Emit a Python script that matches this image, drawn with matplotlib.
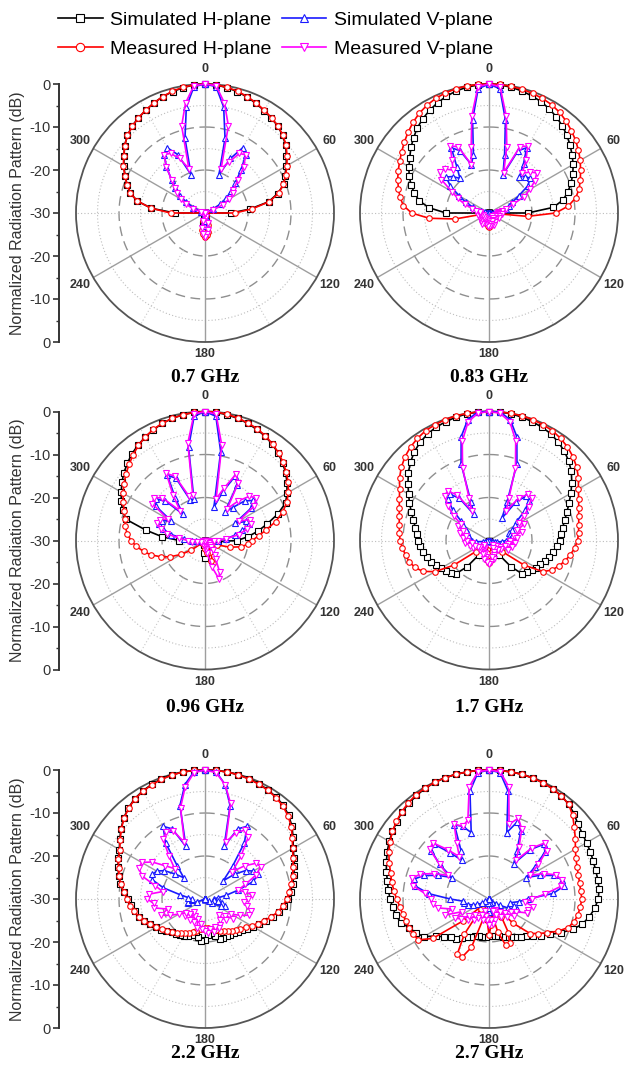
import numpy as np
import matplotlib
matplotlib.use("Agg")
import matplotlib.pyplot as plt

plt.rcParams['font.family'] = ['Liberation Sans', 'DejaVu Sans']

# ---------------- data (dB, angles 0..355 step 5, clockwise from top) ----------------
angles_deg = list(range(0, 360, 5))
freq_labels = ["0.7 GHz", "0.83 GHz", "0.96 GHz", "1.7 GHz", "2.2 GHz", "2.7 GHz"]
series_labels = ["Simulated H-plane", "Measured H-plane", "Simulated V-plane", "Measured V-plane"]
angle_tick_values = [0, 60, 120, 180, 240, 300]
angle_tick_labels = ["0", "60", "120", "180", "240", "300"]
left_tick_values = [30, 20, 10, 0, -10, -20, -30]
left_tick_labels = ["0", "-10", "-20", "-30", "-20", "-10", "0"]

sim_h_07 = [0, -0.1, -0.4, -0.8, -1.3, -1.9, -2.5, -3.1, -3.6, -4.5, -5.5, -6.9, -8.2, -9.5, -10.5, -12.5, -15, -19.5,
            -24, -31, -31, -31, -31, -31, -31, -31, -31, -31, -31, -31, -31, -31, -30, -29, -27.5, -27,
            -27, -27, -27.5, -29, -30.5, -31, -31, -31, -31, -31, -31, -31, -31, -31, -31, -31, -31, -31,
            -23, -17.5, -14, -12, -10.7, -9.5, -8.2, -7, -5.6, -4.5, -3.6, -3, -2.4, -1.8, -1.2, -0.8, -0.4, -0.1]
meas_h_07 = [0, -0.1, -0.3, -0.7, -1.2, -1.8, -2.4, -3.0, -3.6, -4.4, -5.4, -6.7, -8.0, -9.3, -10.6, -12.3, -14.8, -19,
             -23, -31, -31, -31, -31, -31, -31, -31, -31, -31, -31, -31, -31, -31, -29, -27, -25.5, -24.8,
             -24.5, -25, -26, -28, -31, -31, -31, -31, -31, -31, -31, -31, -31, -31, -31, -31, -31, -31,
             -22, -17.5, -14, -12, -10.7, -9.4, -8.1, -6.9, -5.6, -4.5, -3.7, -3.0, -2.4, -1.8, -1.2, -0.7, -0.3, -0.1]
sim_v_07 = [0, -0.5, -5, -12, -20.5, -16, -12.5, -13.5, -17, -20, -22, -24, -26, -28, -30, -31, -31, -31,
            -31, -31, -31, -31, -31, -31, -31, -31, -31, -31, -31, -31, -31, -31, -30, -29, -28, -27.5,
            -27, -27.5, -28, -29, -30.5, -31, -31, -31, -31, -31, -31, -31, -31, -31, -31, -31, -31, -31,
            -31, -31, -31, -31, -29, -27, -25, -23, -21, -19, -16, -13.5, -12.5, -15, -20.5, -12, -5, -0.5]
meas_v_07 = [0, -0.3, -4, -9, -19, -17, -14, -13.5, -16, -19, -21.5, -22, -23.5, -25.5, -28, -31, -31, -31,
             -31, -31, -31, -31, -31, -31, -31, -31, -31, -31, -31, -31, -31, -31, -29, -27.5, -26, -25,
             -24.5, -25, -26.5, -28, -29.5, -31, -31, -31, -31, -31, -31, -31, -31, -31, -31, -31, -31, -31,
             -31, -31, -31, -29, -27, -25, -23.5, -22, -21, -19, -16, -13.4, -14, -16, -19, -9, -4, -0.3]

sim_h_083 = [0, -0.1, -0.3, -0.6, -1.0, -1.4, -2.0, -2.7, -3.5, -4.4, -5.4, -6.4, -7.4, -8.5, -9.7, -11, -12.5, -15,
             -21, -31, -31, -31, -31, -31, -31, -31, -31, -31, -31, -31, -31, -31, -31, -31, -31, -29,
             -28, -29, -31, -31, -31, -31, -31, -31, -31, -31, -31, -31, -31, -31, -31, -31, -31, -31,
             -20, -16, -13.5, -12, -10.7, -9.5, -8.5, -7.5, -6.3, -5.2, -4.1, -3.2, -2.4, -1.7, -1.1, -0.6, -0.3, -0.1]
meas_h_083 = [0, 0, -0.1, -0.2, -0.4, -0.6, -0.9, -1.4, -2.1, -2.9, -3.7, -4.6, -5.5, -6.5, -7.4, -8.3, -9.5, -11.5,
              -14.5, -21, -31, -31, -31, -31, -31, -31, -31, -31, -31, -31, -31, -31, -31, -31, -28.5, -27,
              -26.7, -27, -28.5, -31, -31, -31, -31, -31, -31, -31, -31, -31, -31, -31, -31, -31, -22, -16,
              -12, -10, -9, -8.2, -7.4, -6.7, -6.0, -5.2, -4.3, -3.4, -2.5, -1.7, -1.1, -0.6, -0.3, -0.1, 0, 0]
sim_v_083 = [0, -1, -8, -16, -20.5, -14, -12.5, -16, -19, -18, -17.5, -19, -22, -24, -25, -26, -28, -29,
             -29.5, -31, -31, -31, -31, -31, -31, -31, -31, -31, -31, -31, -31, -31, -29.5, -29, -28.5, -28.5,
             -28.5, -28.5, -29, -29.5, -31, -31, -31, -31, -31, -31, -31, -31, -31, -31, -31, -31, -31, -31,
             -31, -29.5, -29, -28, -26, -24, -22, -19, -17, -18, -19.5, -17, -12.5, -14, -18, -16, -8, -1]
meas_v_083 = [0, -0.5, -7, -14, -20, -13, -12, -15, -18, -16.5, -15.5, -17, -19, -21, -24, -26, -27, -28,
              -28, -27, -28, -27.5, -28.5, -27.5, -28.5, -28, -29, -28, -28.5, -27.5, -28, -27, -28, -27, -27.5, -27,
              -27.5, -27, -28, -27.5, -28.5, -27.5, -28, -27, -28.5, -27.5, -28, -28.5, -27.5, -28, -28.5, -28, -27.5, -28,
              -28, -28, -27, -26, -24, -22, -20, -16.5, -15, -15.5, -17, -15, -12, -13, -18, -14, -7, -0.5]

sim_h_096 = [0, -0.1, -0.3, -0.6, -1.0, -1.5, -2.0, -2.7, -3.5, -4.5, -5.5, -6.7, -8, -9.3, -12, -15, -17.5, -20,
             -22.5, -27, -31, -31, -31, -31, -31, -31, -31, -31, -31, -31, -31, -31, -31, -31, -28, -26.5,
             -26, -27, -29, -31, -31, -31, -31, -31, -31, -31, -31, -31, -31, -31, -31, -31, -31, -31,
             -24, -20, -16, -11, -9.6, -8.5, -7.5, -6.4, -5.4, -4.5, -3.6, -2.9, -2.2, -1.6, -1.0, -0.6, -0.3, -0.1]
meas_h_096 = [0, 0, -0.2, -0.5, -0.9, -1.3, -1.9, -2.6, -3.4, -4.3, -5.3, -6.4, -7.6, -9, -10.8, -13, -15.5, -17.5,
              -19, -20, -21.5, -24, -27, -30.5, -31, -31, -31, -31, -31, -31, -31, -27, -24.5, -25, -27, -28,
              -28, -29, -31, -31, -31, -31, -31, -31, -31, -31, -29, -26, -23.5, -21, -19, -17, -15.5, -14,
              -12.8, -11.8, -11.2, -10.7, -10, -9, -8, -7, -6, -5, -4, -3, -2.2, -1.5, -1.0, -0.6, -0.3, -0.1]
sim_v_096 = [0, -1, -9, -22, -18, -13.5, -15, -22, -20, -17, -15.5, -17, -22, -19.5, -19, -21, -23, -25,
             -27, -29, -31, -31, -31, -31, -31, -31, -31, -31, -31, -31, -31, -31, -31, -31, -31, -31,
             -31, -31, -31, -31, -31, -31, -31, -31, -31, -31, -31, -31, -31, -31, -31, -31, -29, -28,
             -27, -25, -22, -20, -18.5, -19, -21, -16, -15, -17, -22, -18, -12.5, -14, -20, -20, -8, -1]
meas_v_096 = [0, -0.5, -7.5, -20, -17, -13, -14.5, -21, -18, -15.5, -14.5, -16, -21, -18.5, -18.5, -20, -22, -25,
              -27, -28, -29, -29.5, -30, -29, -30, -29, -28.5, -28, -27, -26, -25, -22, -20.5, -23.5, -27, -28,
              -28.5, -29, -29.5, -29, -30, -29, -30, -31, -31, -31, -31, -31, -31, -31, -29.5, -29, -28, -27,
              -26, -24, -21, -19.5, -18, -18.5, -20, -15, -14.5, -16, -21, -17, -12, -13.5, -19, -19, -7, -0.5]

sim_h_17 = [0, 0, -0.1, -0.3, -0.6, -0.9, -1.3, -2, -2.8, -3.8, -5, -6.5, -8, -9.5, -10.7, -11.8, -12.6, -13.2,
            -13.6, -14.2, -14.8, -15.5, -16.2, -16.8, -17.3, -17.9, -18.5, -19, -22, -26, -31, -31, -31, -29, -27, -26,
            -26, -26.5, -28, -31, -31, -31, -31, -26, -22, -19, -18.4, -17.8, -17.2, -16.5, -15.7, -15, -14.5, -14,
            -13.6, -13.2, -12.6, -11.8, -10.8, -9.6, -8.4, -7, -5.5, -4.2, -3, -2.1, -1.4, -0.9, -0.6, -0.3, -0.1, 0]
meas_h_17 = [0, 0, 0, 0, -0.1, -0.3, -0.5, -1, -1.6, -2.4, -3.4, -4.6, -6, -7, -7.8, -8.4, -8.8, -9.1,
             -9.4, -10, -10.8, -11.7, -12.7, -13.8, -15.5, -20, -26, -31, -31, -31, -31, -31, -31, -29, -27, -25.5,
             -24.7, -25.5, -27, -31, -31, -31, -31, -31, -31, -31, -26, -20, -15.5, -13, -11.7, -10.8, -10.3, -9.8,
             -9.3, -9.1, -8.8, -8.4, -7.8, -7, -6, -4.6, -3.4, -2.4, -1.6, -1, -0.5, -0.3, -0.1, 0, 0, 0]
sim_v_17 = [0, 0, -1.5, -5, -11, -20, -24, -19, -16.5, -17, -19, -22, -23, -24, -25, -25, -24.5, -25,
            -26, -27, -28, -28.5, -29, -29.5, -31, -31, -31, -31, -31, -31, -31, -31, -31, -31, -31, -31,
            -31, -31, -31, -31, -31, -31, -31, -31, -31, -31, -31, -31, -31, -31, -29.5, -29, -28.5, -27,
            -26, -25.5, -25, -25, -24.5, -24, -23, -22, -19, -16.5, -16, -18, -23, -20, -11, -5, -1.5, 0]
meas_v_17 = [0, -0.3, -2, -6, -12, -19, -22, -18, -16, -16, -18, -20, -22, -21, -23, -22, -24, -23.5,
             -25, -24, -25.5, -24.5, -26, -25, -27, -26.5, -28, -27, -28.5, -27.5, -28, -27, -26.5, -25.5, -26, -25,
             -24.5, -25, -26, -25.5, -27, -26.5, -28, -27.5, -28, -27, -28.5, -27.5, -27, -26, -26.5, -25.5, -26, -24.5,
             -25, -24, -24.5, -23, -23.5, -22, -22.5, -20, -17.5, -15.5, -15, -17, -22, -19, -12, -6, -2, -0.3]

sim_h_22 = [0, 0, 0, -0.1, -0.2, -0.4, -0.7, -1.1, -1.6, -2.5, -3.6, -5, -6.3, -7.2, -7.9, -8.6, -9.3, -10,
            -10.8, -11.5, -12.5, -13.7, -15, -16.2, -17.2, -18, -18.8, -19.3, -19.6, -19.8, -20, -20, -20, -21, -22, -21.5,
            -20.5, -20.2, -21, -22, -21, -20.5, -20, -19.8, -19.5, -19, -18.3, -17.5, -16.8, -16, -15, -14.2, -13.5, -12.8,
            -12, -11, -10, -9.2, -8.5, -7.7, -7, -5.8, -4.5, -3.3, -2.3, -1.5, -1, -0.6, -0.3, -0.1, 0, 0]
meas_h_22 = [0, 0, 0, -0.1, -0.3, -0.5, -0.8, -1.2, -1.8, -2.7, -3.8, -5.2, -6.5, -7.4, -8.2, -8.9, -9.6, -10.3,
             -11, -11.8, -12.8, -14, -15.3, -16.5, -17.5, -18.5, -19.3, -19.8, -20.3, -20.8, -21.3, -21.8, -22.3, -22.8, -23, -23.2,
             -23.3, -23, -22.8, -22.3, -21.8, -21.3, -20.8, -20.3, -19.8, -19.2, -18.5, -17.7, -16.9, -16, -15, -14.1, -13.3, -12.6,
             -11.9, -11, -10.1, -9.3, -8.6, -7.8, -7.1, -5.9, -4.6, -3.4, -2.4, -1.6, -1.1, -0.7, -0.4, -0.2, 0, 0]
sim_v_22 = [0, -0.3, -3, -7.5, -17, -12, -10.5, -14, -20, -24, -21, -18.5, -17, -16.5, -18, -22, -25, -27,
            -28, -28, -27, -26, -25, -26, -28, -29, -31, -31, -31, -31, -31, -31, -31, -31, -31, -31,
            -31, -31, -31, -31, -31, -31, -31, -31, -31, -31, -31, -31, -31, -31, -28, -26, -26, -27,
            -27, -26, -24, -20, -17, -16.5, -17, -18.5, -21, -23, -20, -14, -10.5, -12, -17, -7.5, -3, -0.3]
meas_v_22 = [0, -0.5, -3, -7, -16, -13, -11.5, -12.5, -17, -21, -18, -15.5, -15, -17, -20, -22, -20.5, -19,
             -20, -21, -20, -19, -19, -21, -23, -22, -24, -23, -25, -24, -23, -22.5, -23, -22, -23, -22,
             -22.5, -23, -24, -23, -25, -24, -25.5, -24, -26, -25, -24, -24.5, -23, -21, -19, -21, -18, -18,
             -16.6, -17, -20, -18, -14.5, -13, -13, -15, -18, -20, -17, -13, -12, -12.5, -16, -8, -3.5, -0.5]

sim_h_27 = [0, 0, 0, 0, -0.1, -0.2, -0.4, -0.7, -1.2, -2, -3, -3.5, -3.8, -4, -4.2, -4.3, -4.3, -4.3,
            -4.6, -5.3, -6.3, -7.5, -9.3, -11.5, -13.5, -15.2, -16.6, -17.7, -18.6, -19.3, -19.9, -20.3, -20.7, -21, -21.2, -21.3,
            -21.3, -21.2, -21.1, -21, -20.8, -20.3, -19.9, -19, -18, -17.4, -16.3, -15, -12.5, -11.3, -10.3, -8.8, -8, -7.5,
            -7, -6.5, -6, -5.3, -4.6, -3.9, -3.2, -2.6, -2, -1.4, -1, -0.6, -0.3, -0.1, 0, 0, 0, 0]
meas_h_27 = [0, 0, 0, 0, -0.1, -0.2, -0.4, -0.7, -1.2, -2.5, -4.1, -5.5, -6.8, -7.7, -8.2, -8.5, -8.6, -8.6,
             -8.4, -8.7, -9, -9.5, -10.5, -12.3, -14.3, -16, -17.5, -22, -27, -25, -21, -18.7, -18.5, -22, -27, -24,
             -21.6, -25, -28, -26, -18, -15, -15.3, -20, -27, -28, -22, -14, -11, -10.6, -10.3, -10, -9.6, -9.2,
             -8.5, -7.8, -7, -6.3, -5.3, -4.3, -3.4, -2.6, -1.9, -1.3, -0.8, -0.4, -0.2, -0.1, 0, 0, 0, 0]
sim_v_27 = [0, -0.5, -4.5, -14, -11, -12.5, -17, -20, -15, -12, -13, -17, -20, -17, -14, -12.5, -12.2, -15,
            -21, -23, -25, -24, -23, -25, -27, -28, -29, -31, -31, -31, -31, -31, -31, -29, -28, -27,
            -27, -28, -29, -31, -31, -31, -31, -31, -31, -31, -31, -29, -28, -27, -26, -25, -24, -24,
            -21, -16, -12.5, -12, -14, -17, -20, -16, -12.5, -12, -16, -19, -17, -11, -12, -14, -4.5, -0.5]
meas_v_27 = [0, -0.3, -3.5, -12, -10, -12, -16, -19, -14.5, -11.5, -12.5, -16, -19, -16, -13.5, -12.5, -13, -17,
             -20, -21.5, -19.5, -20.5, -20.5, -23, -24, -23, -25, -24, -26, -25, -27, -26, -27, -25, -24, -25,
             -24, -25, -26, -25, -27, -26, -25, -24, -25, -23, -24, -22, -21, -23, -19, -21, -18, -17,
             -16.5, -15, -12, -11.5, -13, -16, -19, -16, -12, -11.5, -15, -18, -15, -10.8, -12, -11, -3.5, -0.3]

panel_names = ["07", "083", "096", "17", "22", "27"]
panels = [
    (sim_h_07, meas_h_07, sim_v_07, meas_v_07),
    (sim_h_083, meas_h_083, sim_v_083, meas_v_083),
    (sim_h_096, meas_h_096, sim_v_096, meas_v_096),
    (sim_h_17, meas_h_17, sim_v_17, meas_v_17),
    (sim_h_22, meas_h_22, sim_v_22, meas_v_22),
    (sim_h_27, meas_h_27, sim_v_27, meas_v_27),
]
bad = []
for pn, p in zip(panel_names, panels):
    for k, s in enumerate(p):
        if len(s) != len(angles_deg):
            bad.append((pn, k, len(s)))
assert not bad, bad

# ---------------- styling ----------------
W, H = 625, 1069
R = 129.0
RMIN, RMAX = -30, 0
centers = [(205, 213), (489, 213), (205, 540.5), (489, 540.5), (205, 899), (489, 899)]
title_y = [378, 378, 708, 708, 1053, 1053]
series_colors = ['#000000', '#ff0000', '#1a1aff', '#ff00ff']
series_markers = ['s', 'o', '^', 'v']

fig = plt.figure(figsize=(W / 100, H / 100), dpi=100)

theta_full = np.deg2rad(np.linspace(0, 360, 361))
theta_data = np.deg2rad(angles_deg + [360])

legend_handles = None
for idx, (cx, cy) in enumerate(centers):
    ax = fig.add_axes([(cx - R) / W, 1 - (cy + R) / H, 2 * R / W, 2 * R / H], projection='polar')
    ax.set_theta_zero_location('N')
    ax.set_theta_direction(-1)
    ax.set_ylim(RMIN, RMAX)
    ax.grid(False)
    ax.set_xticks([])
    ax.set_yticks([])
    ax.spines['polar'].set_color('#555555')
    ax.spines['polar'].set_linewidth(1.3)
    for rv in (-10, -20):
        ax.plot(theta_full, np.full_like(theta_full, rv), color='#8f8f8f', lw=1.0,
                ls=(0, (7, 4)), zorder=1)
    for rv in (-5, -15, -25):
        ax.plot(theta_full, np.full_like(theta_full, rv), color='#bdbdbd', lw=0.8,
                ls=(0, (1, 2)), zorder=1)
    for a in angle_tick_values:
        ax.plot([np.deg2rad(a)] * 2, [RMIN, RMAX], color='#9e9e9e', lw=1.0, zorder=1)
    for a in (90, 270):
        ax.plot([np.deg2rad(a)] * 2, [RMIN, RMAX], color='#bdbdbd', lw=0.8, ls=(0, (1, 2)), zorder=1)
    for a in (30, 150, 210, 330):
        ax.plot([np.deg2rad(a)] * 2, [-20, RMAX], color='#c8c8c8', lw=0.8, ls=(0, (1, 2)), zorder=1)
    for a, lab in zip(angle_tick_values, angle_tick_labels):
        rr = 3.6 if a == 0 else (2.9 if a == 180 else 3.5)
        ax.text(np.deg2rad(a), rr, lab, ha='center', va='center', fontsize=9,
                fontweight='bold', color='#333333', clip_on=False)
    handles = []
    for s, col, mk, lab in zip(panels[idx], series_colors, series_markers, series_labels):
        vals = np.maximum(np.array(s + [s[0]], dtype=float), RMIN)
        ln, = ax.plot(theta_data, vals, color=col, lw=1.2, marker=mk, ms=4,
                      mfc='white', mec=col, mew=0.8, clip_on=False, zorder=3, label=lab)
        handles.append(ln)
    if legend_handles is None:
        legend_handles = handles
    fig.text(cx / W, 1 - title_y[idx] / H, freq_labels[idx], ha='center', va='center',
             fontsize=14, fontweight='bold', family='Liberation Serif', color='black')
    if idx % 2 == 0:
        ax2 = fig.add_axes([59 / W, 1 - (cy + R) / H, 0.0001, 2 * R / H])
        ax2.set_ylim(-30, 30)
        ax2.set_yticks(left_tick_values)
        ax2.set_yticklabels(left_tick_labels)
        ax2.set_yticks(list(range(-25, 30, 10)), minor=True)
        ax2.set_xticks([])
        for sp in ('top', 'right', 'bottom'):
            ax2.spines[sp].set_visible(False)
        ax2.spines['left'].set_color('#333333')
        ax2.spines['left'].set_linewidth(1.4)
        ax2.tick_params(axis='y', which='major', direction='out', length=4, width=1.2,
                        labelsize=10.5, colors='#333333', pad=2)
        ax2.tick_params(axis='y', which='minor', direction='out', length=2.5, width=1.0,
                        colors='#333333')
        ax2.patch.set_visible(False)
        fig.text(18 / W, 1 - cy / H, "Normalized Radiation Pattern (dB)", rotation=90,
                 ha='center', va='center', fontsize=11.5, color='#333333')

fig.legend(legend_handles, series_labels, loc='upper left', bbox_to_anchor=(58 / W, 1 - 11 / H),
           ncol=2, frameon=False, fontsize=14, handlelength=2.3, handletextpad=0.4,
           columnspacing=0.5, labelspacing=0.62, borderpad=0, borderaxespad=0,
           numpoints=1, markerscale=1.5)

fig.savefig("out.png", dpi=100)
